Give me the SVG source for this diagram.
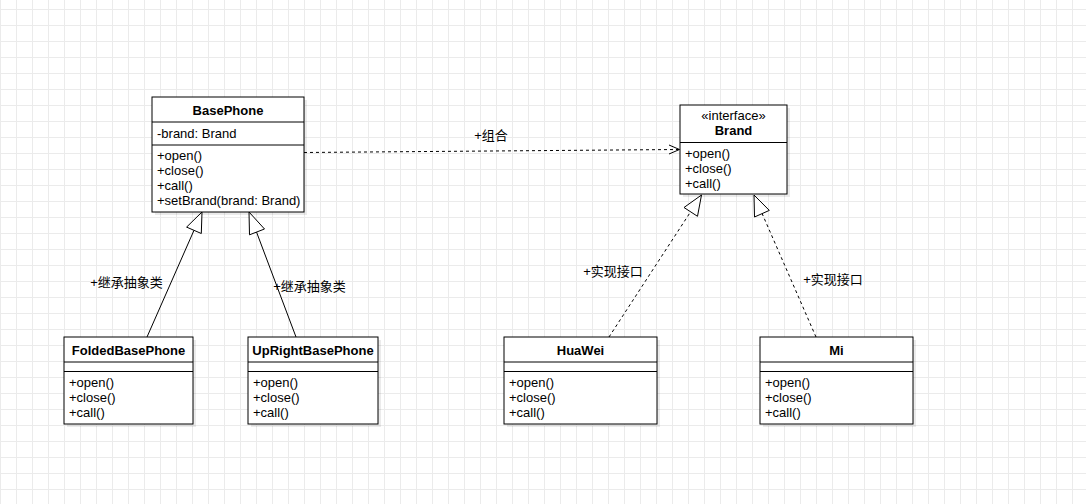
<svg xmlns="http://www.w3.org/2000/svg" width="1086" height="504" viewBox="0 0 1086 504">
  <style>
    .box { fill: #ffffff; stroke: #000000; stroke-width: 1; }
    .shadow { fill: #000000; fill-opacity: 0.08; }
    .div { stroke: #000000; stroke-width: 1; fill: none; }
    text { font-family: "Liberation Sans", Arial, "Noto Sans CJK SC", sans-serif; font-size: 13px; fill: #000000; }
    .title { font-weight: bold; text-anchor: middle; }
    .st { text-anchor: middle; }
    .lbl { text-anchor: middle; }
    .solid { stroke: #000000; stroke-width: 1; fill: none; }
    .dashed { stroke: #000000; stroke-width: 1; fill: none; stroke-dasharray: 3 3; }
    .tri { stroke: #000000; stroke-width: 1; fill: #ffffff; stroke-linejoin: miter; }
  </style>
  <defs>
    <pattern id="grid" patternUnits="userSpaceOnUse" x="0" y="9" width="16" height="16">
      <path d="M0 0.5 H16 M0.5 0 V16" stroke="#ebebeb" stroke-width="1" fill="none"/>
    </pattern>
  </defs>
  <rect x="0" y="0" width="1086" height="504" fill="#ffffff"/>
  <rect x="0" y="0" width="1086" height="504" fill="url(#grid)"/>

  <g id="connectors">
    <!-- BasePhone -> Brand -->
    <path class="dashed" d="M304 152.5 L679 149.5"/>
    <path class="solid" d="M669 145 L679.5 149.5 L669 154"/>
    <text class="lbl" x="491" y="140">+组合</text>

    <!-- FoldedBasePhone -> BasePhone -->
    <path class="solid" d="M147 337 L194 230.3"/>
    <path class="tri" d="M202 212 L201.3 233.5 L186.6 227.1 Z"/>
    <text class="lbl" x="126.5" y="286.5">+继承抽象类</text>

    <!-- UpRightBasePhone -> BasePhone -->
    <path class="solid" d="M296 337 L256.5 232"/>
    <path class="tri" d="M249 212 L264.5 229 L249.5 234.8 Z"/>
    <text class="lbl" x="309.5" y="291">+继承抽象类</text>

    <!-- HuaWei -> Brand -->
    <path class="dashed" d="M609 337 L690.6 211.8"/>
    <path class="tri" d="M701.5 195 L697.5 216.3 L684 207.5 Z"/>
    <text class="lbl" x="613" y="275.5">+实现接口</text>

    <!-- Mi -> Brand -->
    <path class="dashed" d="M816 337 L762 213.3"/>
    <path class="tri" d="M754 195 L769.3 210.4 L754.5 217 Z"/>
    <text class="lbl" x="833" y="283.5">+实现接口</text>
  </g>

  <g id="BasePhone">
    <rect class="shadow" x="155" y="100" width="152" height="115"/>
    <rect class="box" x="152" y="97" width="152" height="115"/>
    <path class="div" d="M152 122 H304 M152 145 H304"/>
    <text class="title" x="228" y="115">BasePhone</text>
    <text x="157" y="137.5">-brand: Brand</text>
    <text x="157" y="160">+open()</text>
    <text x="157" y="175">+close()</text>
    <text x="157" y="190">+call()</text>
    <text x="157" y="205">+setBrand(brand: Brand)</text>
  </g>

  <g id="Brand">
    <rect class="shadow" x="683" y="108" width="107" height="89"/>
    <rect class="box" x="680" y="105" width="107" height="89"/>
    <path class="div" d="M680 142.5 H787"/>
    <text class="st" x="733.5" y="120">«interface»</text>
    <text class="title" x="733.5" y="135">Brand</text>
    <text x="685" y="157.5">+open()</text>
    <text x="685" y="172.5">+close()</text>
    <text x="685" y="187.5">+call()</text>
  </g>

  <g id="FoldedBasePhone">
    <rect class="shadow" x="67" y="340" width="129" height="87"/>
    <rect class="box" x="64" y="337" width="129" height="87"/>
    <path class="div" d="M64 362 H193 M64 371.5 H193"/>
    <text class="title" x="128.5" y="355">FoldedBasePhone</text>
    <text x="69" y="386.5">+open()</text>
    <text x="69" y="401.5">+close()</text>
    <text x="69" y="416.5">+call()</text>
  </g>

  <g id="UpRightBasePhone">
    <rect class="shadow" x="251" y="340" width="130" height="87"/>
    <rect class="box" x="248" y="337" width="130" height="87"/>
    <path class="div" d="M248 362 H378 M248 371.5 H378"/>
    <text class="title" x="313" y="355">UpRightBasePhone</text>
    <text x="253" y="386.5">+open()</text>
    <text x="253" y="401.5">+close()</text>
    <text x="253" y="416.5">+call()</text>
  </g>

  <g id="HuaWei">
    <rect class="shadow" x="507" y="340" width="153" height="87"/>
    <rect class="box" x="504" y="337" width="153" height="87"/>
    <path class="div" d="M504 362 H657 M504 371.5 H657"/>
    <text class="title" x="580.5" y="355">HuaWei</text>
    <text x="509" y="386.5">+open()</text>
    <text x="509" y="401.5">+close()</text>
    <text x="509" y="416.5">+call()</text>
  </g>

  <g id="Mi">
    <rect class="shadow" x="763" y="340" width="153" height="87"/>
    <rect class="box" x="760" y="337" width="153" height="87"/>
    <path class="div" d="M760 362 H913 M760 371.5 H913"/>
    <text class="title" x="836.5" y="355">Mi</text>
    <text x="765" y="386.5">+open()</text>
    <text x="765" y="401.5">+close()</text>
    <text x="765" y="416.5">+call()</text>
  </g>
</svg>
